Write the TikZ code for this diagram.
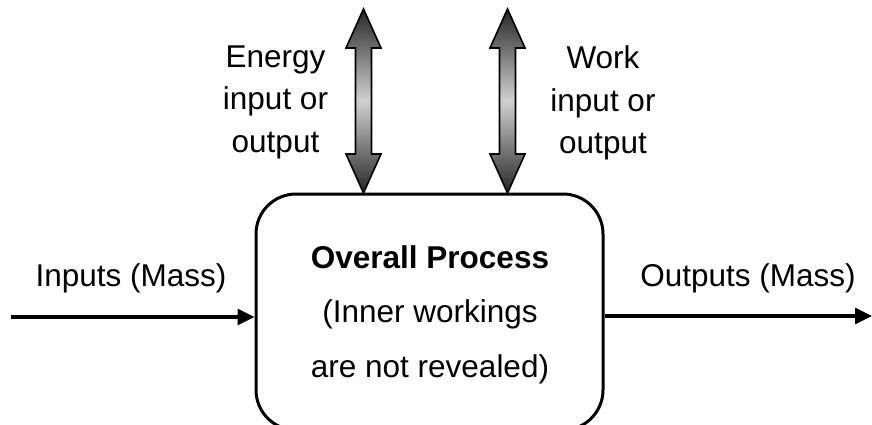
\documentclass[tikz,border=0pt]{standalone}
\usepackage{fontspec}
\setmainfont{Liberation Sans}
\usetikzlibrary{arrows.meta}
\tikzset{
  lbl/.style={inner sep=0pt, font=\fontsize{31.5}{42.5}\selectfont, align=center},
  flow/.style={line width=3.2pt, -{Triangle[length=17pt,width=16pt]}},
  procbox/.style={draw, line width=3pt, rounded corners=40pt, minimum width=347pt, minimum height=236pt, inner sep=0pt},
  dblarrow/.style={draw=black, line width=1.6pt, line join=miter, top color=black!85, bottom color=black!85, middle color=black!18}
}
\begin{document}
\begin{tikzpicture}[x=1pt,y=-1pt]
\useasboundingbox (0,0) rectangle (872,425);
\clip (0,0) rectangle (872,425);
% process box
\node[procbox] (proc) at (429.5,312) {};
\node[lbl, anchor=base] (t1) at (430,268) {\bfseries Overall Process};
\node[lbl, anchor=base] (t2) at (430,322.5) {(Inner workings};
\node[lbl, anchor=base] (t3) at (430,377) {are not revealed)};
% labels
\node[lbl, anchor=base] (inl) at (131,286) {Inputs (Mass)};
\node[lbl, anchor=base] (outl) at (748,286) {Outputs (Mass)};
\node[lbl, anchor=north] (enl) at (275.5,45.5) {Energy\\input or\\output};
\node[lbl, anchor=north] (wkl) at (603,45.5) {Work\\input or\\output};
% mass flow
\coordinate (inS) at (11,317);
\coordinate (outE) at (872,316);
\draw[flow] (inS) -- (inS -| proc.west);
\draw[flow] (proc.east |- outE) -- (outE);
% double arrows (energy and work exchange with the box top)
\foreach \c in {363.5,507.5}{
  \shadedraw[dblarrow]
    (\c,9) -- (\c+17.5,48) -- (\c+8,48) -- (\c+8,154) -- (\c+17.5,154)
    -- (\c,193) -- (\c-17.5,154) -- (\c-8,154) -- (\c-8,48) -- (\c-17.5,48) -- cycle;
}
\end{tikzpicture}
\end{document}
